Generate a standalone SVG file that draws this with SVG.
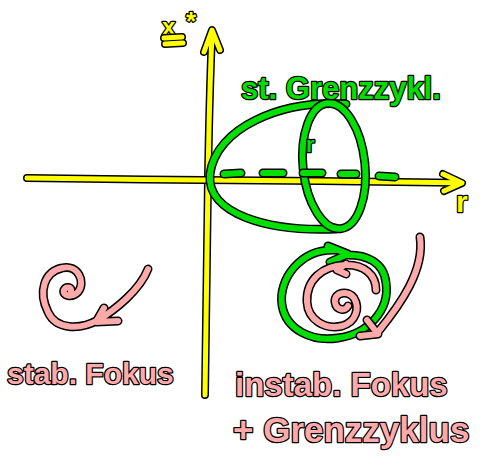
<svg xmlns="http://www.w3.org/2000/svg" width="485" height="466" viewBox="0 0 485 466">
<style>
.o{fill:none;stroke:#000;stroke-linecap:round;stroke-linejoin:round}
.y{fill:none;stroke:#ffff00;stroke-width:5;stroke-linecap:round;stroke-linejoin:round}
.yo{stroke-width:8}
.g{fill:none;stroke:#00e000;stroke-width:6;stroke-linecap:round;stroke-linejoin:round}
.go{stroke-width:9}
.p{fill:none;stroke:#ffaaaa;stroke-width:6;stroke-linecap:round;stroke-linejoin:round}
.po{stroke-width:9}
.t{font-family:"Liberation Sans",Arial,sans-serif;font-weight:bold;stroke:#000;stroke-width:2.5;paint-order:stroke;stroke-linejoin:round}
.ty{fill:#ffff00}.tg{fill:#00e000}.tp{fill:#ffaaaa}
</style>
<defs>
<path id="vax" d="M205,395 C206,300 207,220 208,180 C209,120 210,80 212,34 M204,52 L212,30 L220,50"/>
<path id="hax" d="M27,178 C120,179 250,181 320,181 C380,182 420,182 461,183 M443,174 L462,183 L444,191"/>
<path id="xu" d="M164,38 L182,37 M165,44 L183,43"/>
<path id="gc" d="M346,104 C280,100 216,128 210,174 C206,214 268,232 336,229"/>
<path id="gd" d="M224,174 L241,173 M263,173 L283,173 M303,173 L322,173 M341,174 L356,174 M379,176 L395,177"/>
<path id="gs" d="M336,250 C300,248 278,280 282,305 C286,330 312,342 338,338 C368,334 390,310 386,283 C384,262 366,254 345,255 M328,246 L348,254 L330,262"/>
<path id="ps" d="M376,290 C376,275 364,264 345,265 C322,266 306,280 307,302 C308,320 325,330 342,326 C356,322 360,308 354,298 C348,290 334,292 335,302 C336,310 345,312 348,306 M346,264 L337,270 L346,274"/>
<path id="pt" d="M420,237 C425,270 400,305 378,332 M367,320 L378,334 L360,336"/>
<path id="ls" d="M148,269 C140,290 115,310 98,320 C80,330 56,330 48,312 C38,292 44,272 62,268 C78,264 86,282 78,292 C72,298 62,296 64,290 C66,286 72,287 71,291 M104,308 L96,322 L118,321"/>
</defs>
<g id="axes">
<use href="#vax" class="o yo"/><use href="#vax" class="y"/>
<use href="#hax" class="o yo"/><use href="#hax" class="y"/>
<text class="t ty" x="162" y="35" font-size="24">x</text>
<use href="#xu" class="o yo"/><use href="#xu" class="y"/>
<text class="t ty" x="186" y="30" font-size="26">*</text>
<text class="t ty" x="456" y="212" font-size="30">r</text>
</g>
<g id="grenzzyklus-stabil">
<use href="#gc" class="o go"/><use href="#gc" class="g"/>
<ellipse cx="334" cy="166" rx="31" ry="63" transform="rotate(-6 334 166)" class="o go"/>
<ellipse cx="334" cy="166" rx="31" ry="63" transform="rotate(-6 334 166)" class="g"/>
<use href="#gd" class="o go"/><use href="#gd" class="g"/>
<text class="t tg" x="306" y="152" font-size="22">r</text>
<text class="t tg" x="241" y="99" font-size="31">st. Grenzzykl.</text>
</g>
<g id="stab-fokus">
<use href="#ls" class="o po"/><use href="#ls" class="p"/>
<text class="t tp" x="7" y="384" font-size="30">stab. Fokus</text>
</g>
<g id="instab-fokus">
<use href="#gs" class="o go"/><use href="#gs" class="g"/>
<use href="#ps" class="o po"/><use href="#ps" class="p"/>
<use href="#pt" class="o po"/><use href="#pt" class="p"/>
<text class="t tp" x="235" y="396" font-size="33">instab. Fokus</text>
<text class="t tp" x="233" y="442" font-size="35">+ Grenzzyklus</text>
</g>
</svg>
